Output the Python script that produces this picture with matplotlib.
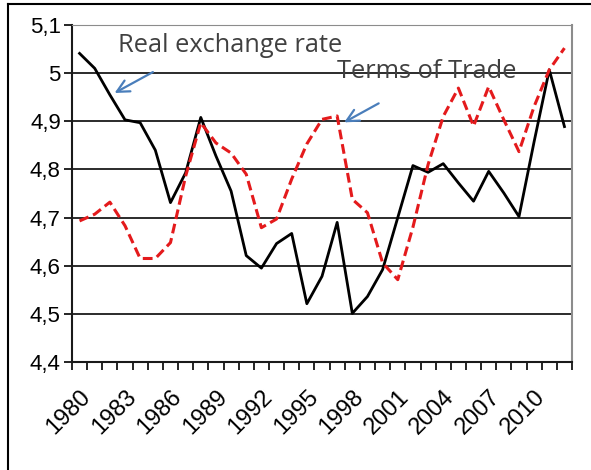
import numpy as np
import matplotlib
matplotlib.use('Agg')
import matplotlib.pyplot as plt
from matplotlib.lines import Line2D

years = list(range(1980, 2013))

real_exchange_rate = [
    5.041, 5.010, 4.955, 4.903, 4.897, 4.840, 4.731, 4.793, 4.908, 4.828,
    4.755, 4.621, 4.595, 4.646, 4.667, 4.521, 4.578, 4.690, 4.501, 4.536,
    4.592, 4.700, 4.808, 4.794, 4.812, 4.772, 4.734, 4.796, 4.751, 4.702,
    4.858, 5.007, 4.889,
]

terms_of_trade = [
    4.693, 4.707, 4.732, 4.683, 4.615, 4.615, 4.648, 4.786, 4.897, 4.855,
    4.834, 4.790, 4.679, 4.697, 4.780, 4.853, 4.904, 4.911, 4.738, 4.710,
    4.606, 4.571, 4.680, 4.810, 4.910, 4.969, 4.890, 4.972, 4.903, 4.837,
    4.931, 5.007, 5.052,
]

y_ticks = [4.4, 4.5, 4.6, 4.7, 4.8, 4.9, 5.0, 5.1]
y_labels = ['4,4', '4,5', '4,6', '4,7', '4,8', '4,9', '5', '5,1']


def main():
    plt.rcParams['font.family'] = ['Liberation Sans', 'DejaVu Sans']

    fig = plt.figure(figsize=(5.91, 4.70), dpi=100)
    ax = fig.add_axes([0.1218, 0.2298, 0.8461, 0.7170])

    x = np.arange(len(years))
    ax.plot(x, real_exchange_rate, color='black', lw=2.0, zorder=3)
    ax.plot(x, terms_of_trade, color='#e41a1c', lw=2.2, ls=(0, (3.2, 1.6)), zorder=3)

    ax.set_xlim(-0.5, len(years) - 0.5)
    ax.set_ylim(4.4, 5.1)
    ax.set_yticks(y_ticks)
    ax.set_yticklabels(y_labels, fontsize=16)
    for yv in y_ticks[1:]:
        ax.axhline(yv, color='#1a1a1a', lw=1.3, zorder=1)

    # year ticks sit between categories, labels every 3 years
    ax.set_xticks(np.arange(len(years) + 1) - 0.5, minor=True)
    ax.set_xticks(x[::3])
    ax.set_xticklabels([str(y) for y in years[::3]], rotation=45,
                       ha='right', va='top', rotation_mode='anchor', fontsize=17)
    ax.tick_params(axis='x', which='major', length=0, pad=17)
    ax.tick_params(axis='x', which='minor', length=6, width=1.2, direction='out')
    ax.tick_params(axis='y', length=6, width=1.2, direction='out', pad=2)

    ax.spines['left'].set_color('#1a1a1a')
    ax.spines['left'].set_linewidth(1.5)
    ax.spines['bottom'].set_color('#1a1a1a')
    ax.spines['bottom'].set_linewidth(1.5)
    ax.spines['right'].set_color('#8c8c8c')
    ax.spines['right'].set_linewidth(1.5)
    ax.spines['top'].set_color('#8c8c8c')

    ax.text(2.55, 5.058, 'Real exchange rate', fontsize=18.3, color='#404040',
            family=['Open Sans', 'DejaVu Sans'], va='center', ha='left')
    ax.annotate('', xy=(2.15, 4.956), xytext=(5.0, 5.005),
                arrowprops=dict(arrowstyle='->', color='#4a7ebb', lw=1.6,
                                mutation_scale=22))
    ax.text(17.0, 5.004, 'Terms of Trade', fontsize=18.3, color='#404040',
            family=['Open Sans', 'DejaVu Sans'], va='center', ha='left')
    ax.annotate('', xy=(17.3, 4.895), xytext=(19.9, 4.94),
                arrowprops=dict(arrowstyle='->', color='#4a7ebb', lw=1.6,
                                mutation_scale=22))

    # outer frame of the screenshot
    fig.add_artist(Line2D([8 / 591, 8 / 591], [0, 1 - 4 / 470], color='black',
                          lw=1.5, transform=fig.transFigure))
    fig.add_artist(Line2D([8 / 591, 1], [1 - 4 / 470, 1 - 4 / 470], color='black',
                          lw=1.5, transform=fig.transFigure))

    fig.savefig('out.png', dpi=100)
    plt.close()


if __name__ == "__main__":
    main()
